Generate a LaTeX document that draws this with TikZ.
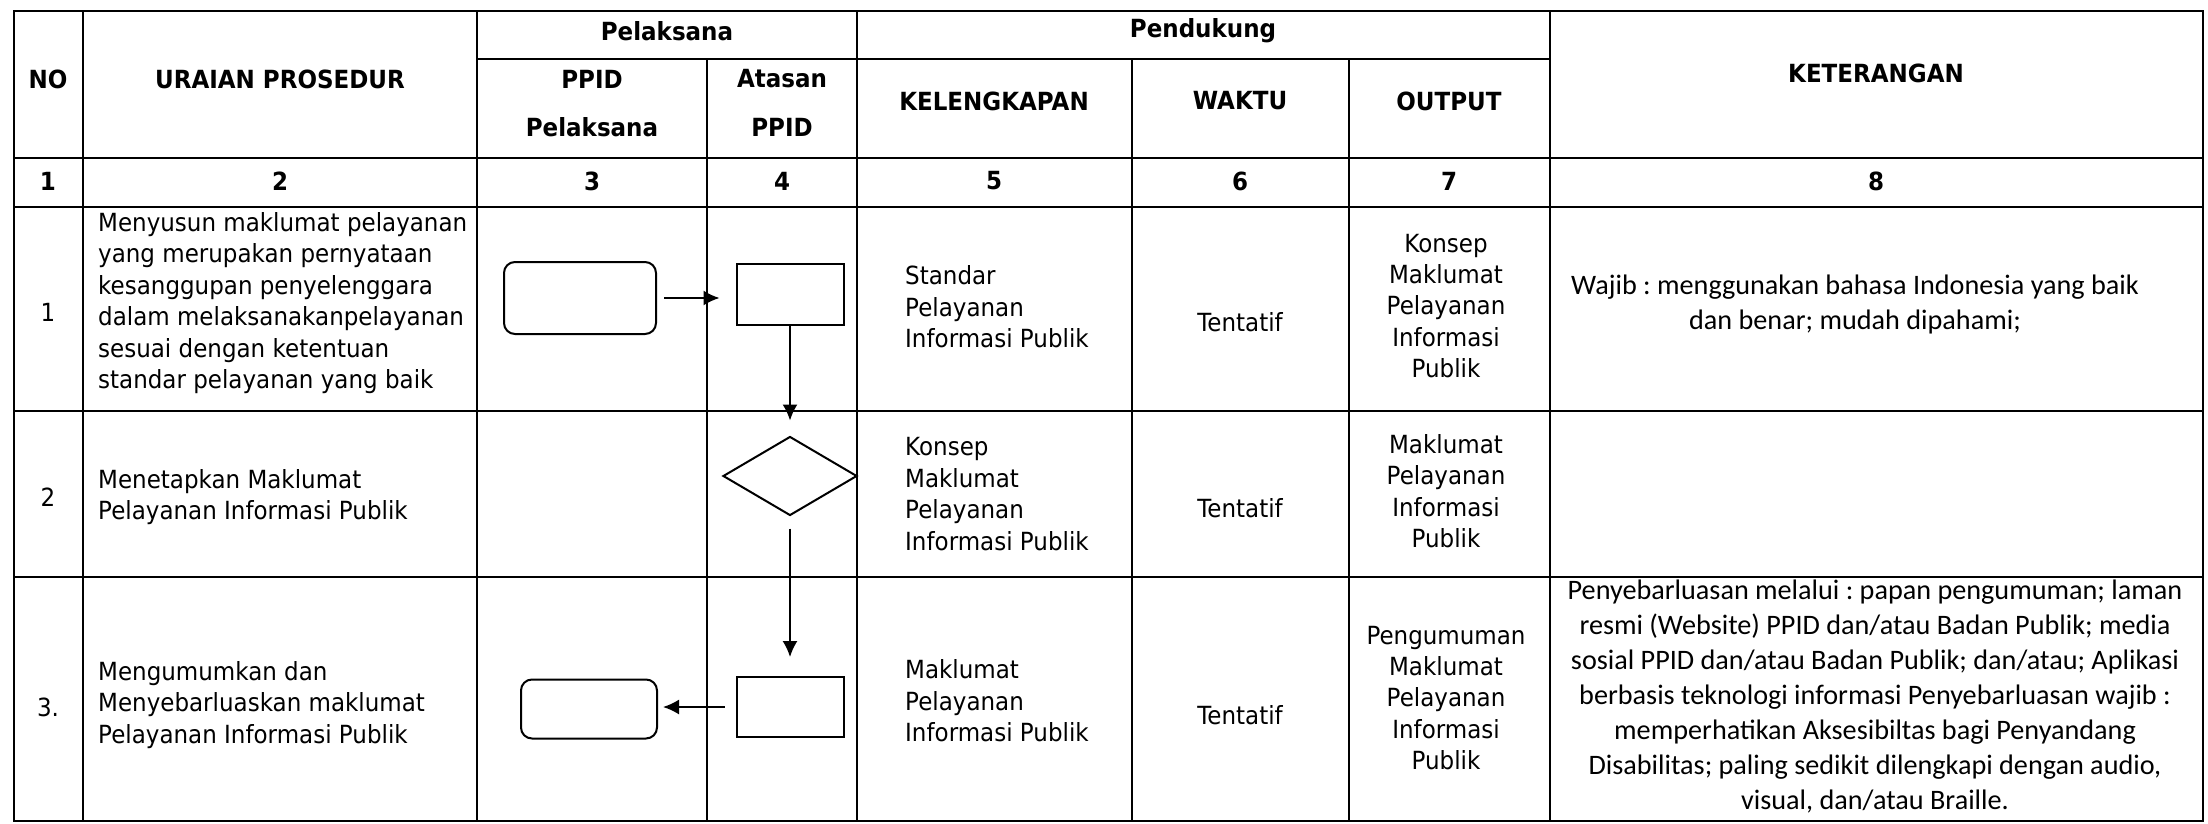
\documentclass[tikz,border=0pt]{standalone}
\usepackage{fontspec}
\usetikzlibrary{arrows.meta,shapes.geometric}
\newfontfamily\verd[FakeStretch=0.92]{DejaVu Sans}
\newfontfamily\calib{Carlito}
\frenchspacing
\begin{document}
\begin{tikzpicture}[x=1pt,y=-1pt,
  grid/.style={line width=1.6pt, line cap=rect},
  shp/.style={draw, line width=2pt, inner sep=0pt},
  rrect/.style={shp, rectangle, rounded corners=11pt},
  box/.style={shp, rectangle},
  dia/.style={shp, diamond},
  arr/.style={line width=1.8pt, -{Latex[length=16pt,width=15pt]}},
  hdr/.style={font=\verd\bfseries\fontsize{25}{30}\selectfont, inner sep=0pt},
  txt/.style={font=\verd\fontsize{25}{31.4}\selectfont, inner sep=0pt},
  ket/.style={font=\calib\frenchspacing\fontsize{28.2}{35}\selectfont, inner sep=0pt, align=center},
]
\useasboundingbox (0,0) rectangle (2208,824);
% table grid
\draw[grid] (14,11) rectangle (2203,821);
\draw[grid] (477,59) -- (1550,59);
\foreach \yy in {158,207,411,577} \draw[grid] (14,\yy) -- (2203,\yy);
\foreach \xx in {83,477,857,1550} \draw[grid] (\xx,11) -- (\xx,821);
\foreach \xx in {707,1132,1349} \draw[grid] (\xx,59) -- (\xx,821);
% header
\node[hdr] (hpel) at (667,31) {Pelaksana};
\node[hdr] (hpen) at (1203,31) {Pendukung};
\node[hdr] (hno) at (48,79) {NO};
\node[hdr] (hur) at (280,79) {URAIAN PROSEDUR};
\node[hdr] (hp1) at (592,79) {PPID};
\node[hdr] (hp2) at (592,127) {Pelaksana};
\node[hdr] (ha1) at (782,79) {Atasan};
\node[hdr] (ha2) at (782,127) {PPID};
\node[hdr] (hkel) at (994,101) {KELENGKAPAN};
\node[hdr] (hwak) at (1240,101) {WAKTU};
\node[hdr] (hout) at (1449,101) {OUTPUT};
\node[hdr] (hket) at (1876,73) {KETERANGAN};
\node[hdr] (n1) at (48,181) {1};
\node[hdr] (n2) at (280,181) {2};
\node[hdr] (n3) at (592,181) {3};
\node[hdr] (n4) at (782,181) {4};
\node[hdr] (n5) at (994,181) {5};
\node[hdr] (n6) at (1240,181) {6};
\node[hdr] (n7) at (1449,181) {7};
\node[hdr] (n8) at (1876,181) {8};
% row numbers
\node[txt] (r1) at (48,312) {1};
\node[txt] (r2) at (48,497) {2};
\node[txt] (r3) at (48,707) {3.};
% uraian
\node[txt, anchor=west, align=left] (u1) at (98,303) {Menyusun maklumat pelayanan\\yang merupakan pernyataan\\kesanggupan penyelenggara\\dalam melaksanakanpelayanan\\sesuai dengan ketentuan\\standar pelayanan yang baik};
\node[txt, anchor=west, align=left] (u2) at (98,497) {Menetapkan Maklumat\\Pelayanan Informasi Publik};
\node[txt, anchor=west, align=left] (u3) at (98,705) {Mengumumkan dan\\Menyebarluaskan maklumat\\Pelayanan Informasi Publik};
% kelengkapan
\node[txt, anchor=west, align=left] (k1) at (905,307) {Standar\\Pelayanan\\Informasi Publik};
\node[txt, anchor=west, align=left] (k2) at (905,494) {Konsep\\Maklumat\\Pelayanan\\Informasi Publik};
\node[txt, anchor=west, align=left] (k3) at (905,701) {Maklumat\\Pelayanan\\Informasi Publik};
% waktu
\node[txt] (w1) at (1240,322) {Tentatif};
\node[txt] (w2) at (1240,508) {Tentatif};
\node[txt] (w3) at (1240,715) {Tentatif};
% output
\node[txt, align=center] (o1) at (1446,306) {Konsep\\Maklumat\\Pelayanan\\Informasi\\Publik};
\node[txt, align=center] (o2) at (1446,491) {Maklumat\\Pelayanan\\Informasi\\Publik};
\node[txt, align=center] (o3) at (1446,698) {Pengumuman\\Maklumat\\Pelayanan\\Informasi\\Publik};
% keterangan
\node[ket] (ke1) at (1855,304) {Wajib : menggunakan bahasa Indonesia yang baik\\dan benar; mudah dipahami;};
\node[ket] (ke3) at (1875,697) {Penyebarluasan melalui : papan pengumuman; laman\\resmi (Website) PPID dan/atau Badan Publik; media\\sosial PPID dan/atau Badan Publik; dan/atau; Aplikasi\\berbasis teknologi informasi Penyebarluasan wajib :\\memperhatikan Aksesibiltas bagi Penyandang\\Disabilitas; paling sedikit dilengkapi dengan audio,\\visual, dan/atau Braille.};
% flow shapes
\node[rrect, minimum width=152pt, minimum height=72pt] (p1) at (580,298) {};
\node[box, minimum width=107pt, minimum height=61pt] (a1) at (790,294) {};
\node[dia, minimum width=134pt, minimum height=79pt] (d2) at (790,476) {};
\node[box, minimum width=107pt, minimum height=60pt] (a3) at (790,707) {};
\node[rrect, minimum width=136pt, minimum height=59pt] (p3) at (589,709) {};
% connectors
\draw[arr, shorten <=7pt, shorten >=16pt] (p1.east) -- (p1.east -| a1.west);
\draw[arr, shorten >=15pt] (a1.south) -- (d2.north);
\draw[arr, shorten <=12pt, shorten >=19pt] (d2.south) -- (a3.north);
\draw[arr, shorten <=11pt, shorten >=5pt] (a3.west) -- (a3.west -| p3.east);
\end{tikzpicture}
\end{document}
